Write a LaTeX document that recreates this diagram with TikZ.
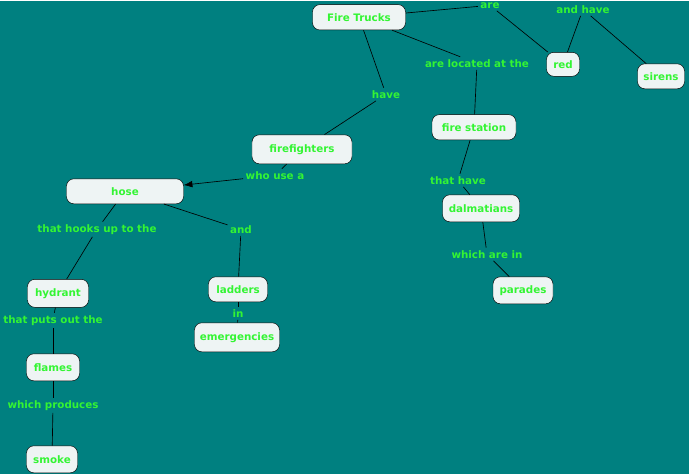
\documentclass[tikz,border=0pt]{standalone}
\usepackage{fontspec}
\setmainfont{DejaVu Sans}
\usepackage{tikz}
\usepackage{xcolor}
\usetikzlibrary{arrows.meta, positioning}
\definecolor{bgTeal}{HTML}{008080}
\definecolor{boxFill}{HTML}{EEF4F4}
\definecolor{textGreen}{HTML}{33F533}
\tikzset{
    conceptBox/.style={draw=black, fill=boxFill, rounded corners=2.2mm, text=textGreen, font=\fontsize{8.8}{10}\selectfont\bfseries, minimum height=7.6mm, inner sep=1pt},
    linkText/.style={text=textGreen, font=\fontsize{8.8}{10}\selectfont\bfseries, inner sep=2pt},
    linkLine/.style={black, line width=0.55pt}
}
\begin{document}
\begin{tikzpicture}[x=0.03cm, y=-0.03cm, >={Latex[length=2.6mm, width=2mm]}]
    \fill[bgTeal] (0,0) rectangle (689,473);
    % concepts
    \node[conceptBox, minimum width=2.79cm] (FireTrucks) at (359,16) {Fire Trucks};
    \node[conceptBox, minimum width=0.99cm, minimum height=7.2mm] (Red) at (563,63) {red};
    \node[conceptBox, minimum width=1.41cm, minimum height=7.5mm] (Sirens) at (661,75) {sirens};
    \node[conceptBox, minimum width=3.0cm, minimum height=8.7mm] (Firefighters) at (302,148) {firefighters};
    \node[conceptBox, minimum width=2.52cm] (FireStation) at (474,126) {fire station};
    \node[conceptBox, minimum width=2.31cm, minimum height=8.1mm] (Dalmatians) at (481,207) {dalmatians};
    \node[conceptBox, minimum width=1.8cm, minimum height=8.1mm] (Parades) at (523,289) {parades};
    \node[conceptBox, minimum width=3.51cm, minimum height=7.5mm] (Hose) at (125,190) {hose};
    \node[conceptBox, minimum width=1.83cm, minimum height=8.4mm] (Hydrant) at (58,292) {hydrant};
    \node[conceptBox, minimum width=1.77cm, minimum height=7.5mm] (Ladders) at (238,288) {ladders};
    \node[conceptBox, minimum width=2.55cm, minimum height=8.7mm] (Emergencies) at (237,336) {emergencies};
    \node[conceptBox, minimum width=1.59cm, minimum height=8.1mm] (Flames) at (53,366) {flames};
    \node[conceptBox, minimum width=1.53cm, minimum height=8.1mm] (Smoke) at (52,458) {smoke};
    % linking phrases
    \node[linkText] (lAre) at (490,4) {are};
    \node[linkText] (lAndHave) at (583,8) {and have};
    \node[linkText] (lLocated) at (477,62) {are located at the};
    \node[linkText] (lHave) at (386,93) {have};
    \node[linkText] (lWhoUse) at (275,174) {who use a};
    \node[linkText] (lThatHave) at (458,179) {that have};
    \node[linkText] (lWhichAre) at (487,253) {which are in};
    \node[linkText] (lHooks) at (97,228) {that hooks up to the};
    \node[linkText] (lAnd) at (241,228) {and};
    \node[linkText] (lIn) at (238,312) {in};
    \node[linkText] (lPuts) at (53,319) {that puts out the};
    \node[linkText] (lProduces) at (53,404) {which produces};
    % connectors
    \draw[linkLine] (FireTrucks) -- (lAre);
    \draw[linkLine] (lAre) -- (Red);
    \draw[linkLine] (Red) -- (lAndHave);
    \draw[linkLine] (lAndHave) -- (Sirens);
    \draw[linkLine] (FireTrucks) -- (lLocated);
    \draw[linkLine] (lLocated) -- (FireStation);
    \draw[linkLine] (FireTrucks) -- (lHave);
    \draw[linkLine] (lHave) -- (Firefighters);
    \draw[linkLine] (Firefighters) -- (lWhoUse);
    \draw[linkLine, ->] (lWhoUse) -- (Hose);
    \draw[linkLine] (FireStation) -- (lThatHave);
    \draw[linkLine] (lThatHave) -- (Dalmatians);
    \draw[linkLine] (Dalmatians) -- (lWhichAre);
    \draw[linkLine] (lWhichAre) -- (Parades);
    \draw[linkLine] (Hose) -- (lHooks);
    \draw[linkLine] (lHooks) -- (Hydrant);
    \draw[linkLine] (Hose) -- (lAnd);
    \draw[linkLine] (lAnd) -- (Ladders);
    \draw[linkLine] (Ladders) -- (lIn);
    \draw[linkLine] (lIn) -- (Emergencies);
    \draw[linkLine] (Hydrant) -- (lPuts);
    \draw[linkLine] (lPuts) -- (Flames);
    \draw[linkLine] (Flames) -- (lProduces);
    \draw[linkLine] (lProduces) -- (Smoke);
\end{tikzpicture}
\end{document}
